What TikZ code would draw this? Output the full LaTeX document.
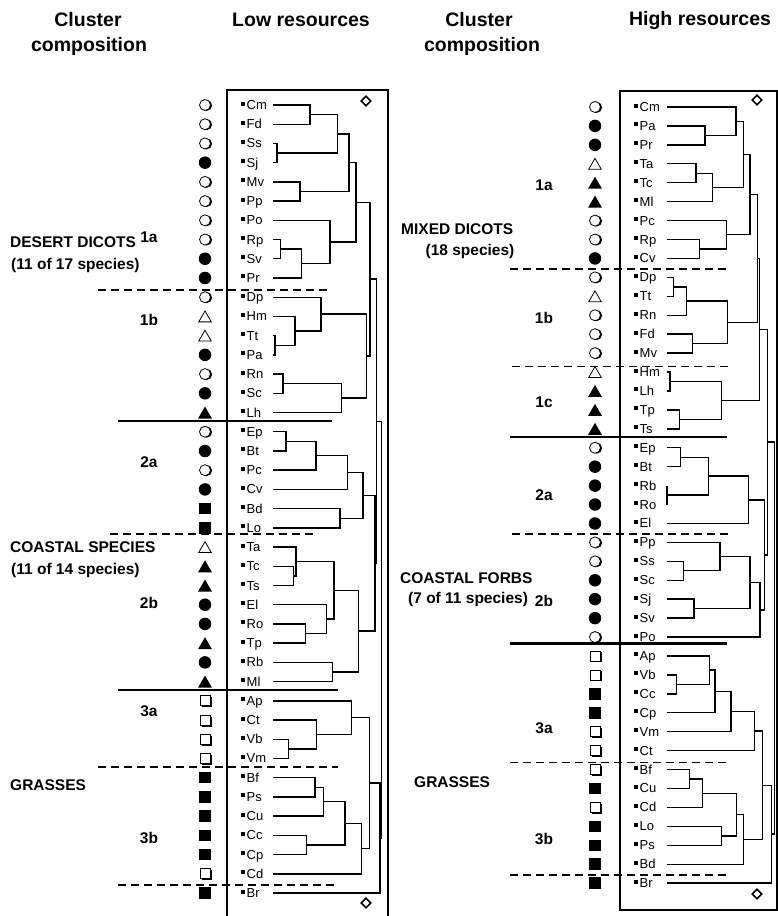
\documentclass[tikz,border=0pt]{standalone}
\usepackage{fontspec}
\setmainfont{Liberation Sans}
\usetikzlibrary{calc,shapes.geometric,shadows}
\tikzset{
  dend/.style={line width=1.4pt},
  cut/.style={line width=1.3pt,dash pattern=on 8pt off 5pt},
  split/.style={line width=2.8pt},
  fc/.style={circle,fill=black,minimum size=12.5pt,inner sep=0pt},
  oc/.style={circle,draw,line width=0.8pt,fill=white,minimum size=11pt,inner sep=0pt,
    drop shadow={shadow xshift=1.6pt,shadow yshift=-0.4pt,opacity=1,fill=black}},
  ft/.style={regular polygon,regular polygon sides=3,fill=black,minimum size=16pt,inner sep=0pt,yshift=-2pt},
  ot/.style={regular polygon,regular polygon sides=3,draw,line width=0.8pt,minimum size=14.5pt,inner sep=0pt,yshift=-1.8pt},
  fs/.style={rectangle,fill=black,minimum size=11.5pt,inner sep=0pt},
  os/.style={rectangle,draw,line width=0.8pt,fill=white,minimum size=10pt,inner sep=0pt,
    drop shadow={shadow xshift=1.5pt,shadow yshift=-1.5pt,opacity=1,fill=black}},
  chip/.style={fill=black,minimum size=4pt,inner sep=0pt},
  sp/.style={font=\fontsize{13}{15}\selectfont,anchor=base west,inner sep=0pt},
  tag/.style={font=\fontsize{15.5}{17}\bfseries\selectfont,inner sep=0pt},
  head/.style={font=\fontsize{19.5}{22}\bfseries\selectfont,inner sep=0pt},
  dmd/.style={diamond,draw,line width=1.6pt,minimum size=10pt,inner sep=0pt},
}
% join two branches at height #4
\newcommand{\mrg}[4]{%
  \draw[dend] let \p1=(#2), \p2=(#3) in (#2) -- (#4pt,\y1) -- (#4pt,\y2) -- (#3);
  \path let \p1=(#2), \p2=(#3) in (#4pt,{0.5*(\y1+\y2)}) coordinate (#1);
}
\begin{document}
\begin{tikzpicture}[x=1pt,y=-1pt]
\useasboundingbox (0,0) rectangle (778,916);
% --- headings
\node[head] (hca) at (88,20) {Cluster};
\node[head] (hcb) at (89,46) {composition};
\node[head] (hlow) at (301,20) {Low resources};
\node[head] (hcc) at (479,20) {Cluster};
\node[head] (hcd) at (482,46) {composition};
\node[head] (hhigh) at (700,20) {High resources};
% --- low resources: frame and leaves
\draw[line width=1.1pt] (227,925) |- (388,90) -- (388,925);
\node[dmd] (dl1) at (366,101) {};
\node[dmd] (dl2) at (366,903) {};
\foreach \nm/\sym [count=\i from 0] in {Cm/oc,Fd/oc,Ss/oc,Sj/fc,Mv/oc,Pp/oc,Po/oc,Rp/oc,Sv/fc,Pr/fc,
    Dp/oc,Hm/ot,Tt/ot,Pa/fc,Rn/oc,Sc/fc,Lh/ft,Ep/oc,Bt/fc,Pc/oc,Cv/fc,Bd/fs,Lo/fs,
    Ta/ot,Tc/ft,Ts/ft,El/fc,Ro/fc,Tp/ft,Rb/fc,Ml/ft,Ap/os,Ct/os,Vb/os,Vm/os,
    Bf/fs,Ps/fs,Cu/fs,Cc/fs,Cp/fs,Cd/os,Br/fs}{
  \pgfmathsetmacro\yy{105+19.22*\i}
  \node[\sym] (sl\nm) at (205,\yy) {};
  \node[chip] (cl\nm) at (243,\yy-1.5) {};
  \node[sp] (tl\nm) at (246.5,\yy+4.5) {\nm};
  \coordinate (l\nm) at (273,\yy);
}
% --- low resources: tree
\mrg{a1}{lCm}{lFd}{310}
\mrg{a2}{lSs}{lSj}{277}
\mrg{a3}{a1}{a2}{337.5}
\mrg{a4}{lMv}{lPp}{300}
\mrg{a5}{a3}{a4}{349}
\mrg{b1}{lRp}{lSv}{280.5}
\mrg{b2}{b1}{lPr}{301.5}
\mrg{b3}{lPo}{b2}{330}
\mrg{a6}{a5}{b3}{356}
\mrg{c1}{lTt}{lPa}{275}
\mrg{c2}{lHm}{c1}{295}
\mrg{c3}{lDp}{c2}{321}
\mrg{c4}{lRn}{lSc}{283}
\mrg{c5}{c4}{lLh}{341.7}
\mrg{c6}{c3}{c5}{366.7}
\mrg{g1}{a6}{c6}{370}
\mrg{d1}{lEp}{lBt}{286}
\mrg{d2}{d1}{lPc}{316}
\mrg{d3}{d2}{lCv}{347.5}
\mrg{d4}{lBd}{lLo}{340}
\mrg{d5}{d3}{d4}{363}
\mrg{e1}{lTc}{lTs}{293.3}
\mrg{e2}{lTa}{e1}{296}
\mrg{e3}{lRo}{lTp}{305.7}
\mrg{e4}{lEl}{e3}{326.7}
\mrg{e5}{e2}{e4}{334}
\mrg{e6}{lRb}{lMl}{332.7}
\mrg{e7}{e5}{e6}{358.3}
\mrg{f1}{d5}{e7}{375}
\mrg{g2}{g1}{f1}{376.7}
\mrg{h1}{lVb}{lVm}{288.3}
\mrg{h2}{lCt}{h1}{316.7}
\mrg{h3}{lAp}{h2}{351.7}
\mrg{h4}{lBf}{lPs}{315}
\mrg{h5}{h4}{lCu}{323.3}
\mrg{h6}{lCc}{lCp}{306.7}
\mrg{h7}{h5}{h6}{345}
\mrg{h8}{h7}{lCd}{361.7}
\mrg{h9}{h3}{h8}{369.3}
\mrg{h10}{h9}{lBr}{380}
\mrg{lroot}{g2}{h10}{381.7}
% --- low resources: groups
\draw[cut] (98,290) -- (330,290);
\draw[split] (118,421) -- (332,421);
\draw[cut] (110,534) -- (318,534);
\draw[split] (118,690) -- (338,690);
\draw[cut] (98,767) -- (338,767);
\draw[cut] (118,885) -- (338,885);
\node[tag] (l1a) at (149,237) {1a};
\node[tag] (l1b) at (149,320) {1b};
\node[tag] (l2a) at (149,462) {2a};
\node[tag] (l2b) at (149,603) {2b};
\node[tag] (l3a) at (149,711) {3a};
\node[tag] (l3b) at (149,838) {3b};
\node[tag,anchor=west] (lg1) at (10,242) {DESERT DICOTS};
\node[tag,anchor=west] (lg1n) at (11,265) {(11 of 17 species)};
\node[tag,anchor=west] (lg2) at (10,547) {COASTAL SPECIES};
\node[tag,anchor=west] (lg2n) at (11,570) {(11 of 14 species)};
\node[tag,anchor=west] (lg3) at (10,785) {GRASSES};
% --- high resources: frame and leaves
\draw[line width=1.1pt] (620,91) rectangle (777,910);
\node[dmd] (dh1) at (757,100) {};
\node[dmd] (dh2) at (757,894) {};
\foreach \nm/\sym [count=\i from 0] in {Cm/oc,Pa/fc,Pr/fc,Ta/ot,Tc/ft,Ml/ft,Pc/oc,Rp/oc,Cv/fc,
    Dp/oc,Tt/ot,Rn/oc,Fd/oc,Mv/oc,Hm/ot,Lh/ft,Tp/ft,Ts/ft,Ep/oc,Bt/fc,Rb/fc,Ro/fc,El/fc,
    Pp/oc,Ss/oc,Sc/fc,Sj/fc,Sv/fc,Po/oc,Ap/os,Vb/os,Cc/fs,Cp/fs,Vm/os,Ct/os,
    Bf/os,Cu/fs,Cd/os,Lo/fs,Ps/fs,Bd/fs,Br/fs}{
  \pgfmathsetmacro\yy{107+18.93*\i}
  \node[\sym] (sr\nm) at (595,\yy) {};
  \node[chip] (cr\nm) at (636,\yy-1.5) {};
  \node[sp] (tr\nm) at (639.5,\yy+4.5) {\nm};
  \coordinate (r\nm) at (667,\yy);
}
% --- high resources: tree
\mrg{p1}{rPa}{rPr}{705}
\mrg{p2}{rCm}{p1}{736}
\mrg{p3}{rTa}{rTc}{696}
\mrg{p4}{p3}{rMl}{712.7}
\mrg{p5}{p2}{p4}{743.3}
\mrg{p6}{rRp}{rCv}{699.3}
\mrg{p7}{rPc}{p6}{726.7}
\mrg{p8}{p5}{p7}{750}
\mrg{q1}{rDp}{rTt}{673.3}
\mrg{q2}{q1}{rRn}{686.7}
\mrg{q3}{rFd}{rMv}{692.7}
\mrg{q4}{q2}{q3}{727.3}
\mrg{q5}{p8}{q4}{757.3}
\mrg{s1}{rHm}{rLh}{670}
\mrg{s2}{rTp}{rTs}{679.3}
\mrg{s3}{s1}{s2}{721.7}
\mrg{t1}{q5}{s3}{759.3}
\mrg{u1}{rEp}{rBt}{680.7}
\mrg{u2}{rRb}{rRo}{667}
\mrg{u3}{u1}{u2}{708.3}
\mrg{u4}{u3}{rEl}{748.3}
\mrg{v1}{rSs}{rSc}{683.3}
\mrg{v2}{rPp}{v1}{720}
\mrg{v3}{rSj}{rSv}{694}
\mrg{v4}{v2}{v3}{750}
\mrg{v5}{v4}{rPo}{760}
\mrg{w1}{u4}{v5}{764.3}
\mrg{y1}{t1}{w1}{767.7}
\mrg{x1}{rVb}{rCc}{676.7}
\mrg{x2}{rAp}{x1}{709.3}
\mrg{x3}{x2}{rCp}{715}
\mrg{x4}{x3}{rVm}{731}
\mrg{x5}{x4}{rCt}{754.3}
\mrg{z1}{rBf}{rCu}{689.3}
\mrg{z2}{z1}{rCd}{702.7}
\mrg{z3}{rLo}{rPs}{721.7}
\mrg{z4}{z2}{z3}{736.7}
\mrg{z5}{z4}{rBd}{743.3}
\mrg{z6}{x5}{z5}{762.7}
\mrg{z7}{z6}{rBr}{771.7}
\mrg{rroot}{y1}{z7}{774.3}
% --- high resources: groups
\draw[cut] (510,269) -- (730,269);
\draw[cut] (512,366.5) -- (730,366.5);
\draw[split] (510,437) -- (727,437);
\draw[cut] (512,534) -- (730,534);
\draw[split] (510,643.5) -- (727,643.5);
\draw[cut] (510,762.5) -- (730,762.5);
\draw[cut] (510,875) -- (730,875);
\node[tag] (r1a) at (544,185) {1a};
\node[tag] (r1b) at (544,318) {1b};
\node[tag] (r1c) at (544,402) {1c};
\node[tag] (r2a) at (544,495) {2a};
\node[tag] (r2b) at (544,601) {2b};
\node[tag] (r3a) at (544,728) {3a};
\node[tag] (r3b) at (544,839) {3b};
\node[tag,anchor=west] (rg1) at (401,229) {MIXED DICOTS};
\node[tag] (rg1n) at (470,251) {(18 species)};
\node[tag,anchor=west] (rg2) at (400,578) {COASTAL FORBS};
\node[tag,anchor=west] (rg2n) at (408,599) {(7 of 11 species)};
\node[tag,anchor=west] (rg3) at (414,782) {GRASSES};
\end{tikzpicture}
\end{document}
